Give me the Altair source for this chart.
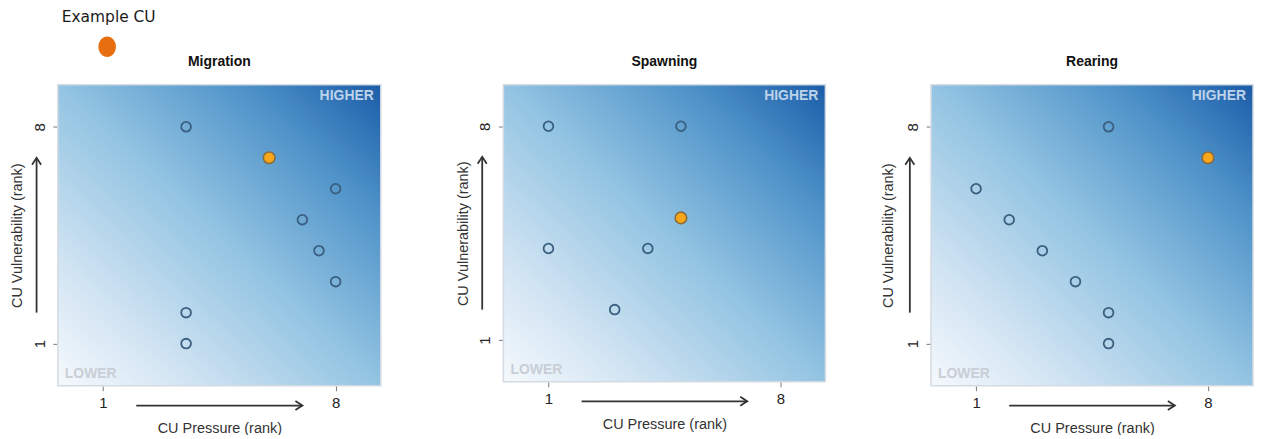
import altair as alt
import pandas as pd

# ---------------- data ----------------
panel_titles = ["Migration", "Spawning", "Rearing"]

migration_x = [3.5, 6, 8, 7, 7.5, 8, 3.5, 3.5]
migration_y = [8, 7, 6, 5, 4, 3, 2, 1]
migration_example = [False, True, False, False, False, False, False, False]

spawning_x = [1, 5, 5, 1, 4, 3]
spawning_y = [8, 8, 5, 4, 4, 2]
spawning_example = [False, False, True, False, False, False]

rearing_x = [5, 8, 1, 2, 3, 4, 5, 5]
rearing_y = [8, 7, 6, 5, 4, 3, 2, 1]
rearing_example = [False, True, False, False, False, False, False, False]

tick_values = [1, 8]
axis_domain = [-0.36, 9.36]

# arrows: first = along x axis, second = along y axis
arrow_x0 = [2, -1]
arrow_x1 = [7, -1]
arrow_y0 = [-1, 2]
arrow_y1 = [-1, 7]
arrow_angle = [0, 270]

x_title = "CU Pressure (rank)"
y_title = "CU Vulnerability (rank)"
corner_labels = ["LOWER", "HIGHER"]
legend_label = "Example CU"

# ---------------- styling ----------------
FONT = "Liberation Sans"
GRAD = alt.Gradient(
    gradient="linear",
    x1=0, y1=1, x2=1, y2=0,
    stops=[
        alt.GradientStop(offset=0.0, color="#f5f9fd"),
        alt.GradientStop(offset=0.2, color="#d3e5f3"),
        alt.GradientStop(offset=0.5, color="#93c4e2"),
        alt.GradientStop(offset=0.78, color="#4f93c9"),
        alt.GradientStop(offset=1.0, color="#1b5ca8"),
    ],
)
CHEVRON = "M -1,-0.65 L 0,0 L -1,0.65"
ELLIPSE = "M 0,-1 A 0.85,1 0 1,1 0,1 A 0.85,1 0 1,1 0,-1 Z"
LEFT_EXTENT = 48  # room reserved left of each plot for the y-axis title


def make_panel(title, xs, ys, ex, w, h, ytitle_x, legend=False):
    df = pd.DataFrame({"pressure": xs, "vulnerability": ys, "example": ex})
    one = pd.DataFrame({"k": [0]})
    arr = pd.DataFrame({"x0": arrow_x0, "x1": arrow_x1, "y0": arrow_y0,
                        "y1": arrow_y1, "angle": arrow_angle})
    xsc = alt.Scale(domain=axis_domain, nice=False, zero=False)
    ysc = alt.Scale(domain=axis_domain, nice=False, zero=False)

    xaxis = alt.Axis(values=tick_values, title=x_title, grid=False, domain=False,
                     tickSize=5, tickColor="#777777", tickWidth=1,
                     labelFont=FONT, labelFontSize=15, labelColor="#222222",
                     labelPadding=5, labelFlush=False, labelOverlap=False,
                     titleFont=FONT, titleFontSize=14.5, titleFontWeight="normal",
                     titleColor="#333333", titleX=w / 2, titleY=42.5,
                     titleBaseline="middle", titleAlign="center")
    yaxis = alt.Axis(values=tick_values, title=y_title, grid=False, domain=False,
                     tickSize=5, tickColor="#777777", tickWidth=1,
                     labelFont=FONT, labelFontSize=15, labelColor="#222222",
                     labelAngle=270, labelAlign="center", labelBaseline="bottom",
                     labelPadding=5.5, labelFlush=False, labelOverlap=False,
                     titleFont=FONT, titleFontSize=14.5, titleFontWeight="normal",
                     titleColor="#333333", titleX=ytitle_x, titleY=h / 2,
                     titleAngle=270, titleBaseline="middle", titleAlign="center")

    frame = alt.Chart(one).mark_rect(fill="white", opacity=0).encode(
        x=alt.value(-LEFT_EXTENT), x2=alt.value(w - 1), y=alt.value(0), y2=alt.value(h))
    bg = alt.Chart(one).mark_rect(fill=GRAD, stroke="#d4dae1", strokeWidth=1.5).encode(
        x=alt.value(0), x2=alt.value(w), y=alt.value(0), y2=alt.value(h))

    rules = alt.Chart(arr).mark_rule(color="#333333", strokeWidth=1.8, clip=False).encode(
        x=alt.X("x0:Q", scale=xsc, axis=xaxis), x2="x1:Q",
        y=alt.Y("y0:Q", scale=ysc, axis=yaxis), y2="y1:Q")
    heads = alt.Chart(arr).mark_point(shape=CHEVRON, filled=False, size=196,
                                      strokeWidth=1.8, color="#333333", opacity=1,
                                      clip=False).encode(
        x=alt.X("x1:Q", scale=xsc, axis=xaxis),
        y=alt.Y("y1:Q", scale=ysc, axis=yaxis),
        angle=alt.Angle("angle:Q", scale=None))

    open_pts = alt.Chart(df).transform_filter("!datum.example").mark_point(
        shape="circle", filled=False, size=95, strokeWidth=1.8, color="#3a5f80",
        opacity=1).encode(
        x=alt.X("pressure:Q", scale=xsc, axis=xaxis),
        y=alt.Y("vulnerability:Q", scale=ysc, axis=yaxis))
    ex_pts = alt.Chart(df).transform_filter("datum.example").mark_point(
        shape="circle", filled=True, fill="#f9a61a", stroke="#8a6c3e",
        strokeWidth=1.6, size=135, opacity=1).encode(
        x=alt.X("pressure:Q", scale=xsc, axis=xaxis),
        y=alt.Y("vulnerability:Q", scale=ysc, axis=yaxis))

    lower = alt.Chart(one).mark_text(text=corner_labels[0], font=FONT, fontSize=14,
                                     fontWeight="bold", color="#c9ced6", align="left",
                                     baseline="middle").encode(
        x=alt.value(7), y=alt.value(h - 11.5))
    higher = alt.Chart(one).mark_text(text=corner_labels[1], font=FONT, fontSize=14,
                                      fontWeight="bold", color="#bdd3ea", align="right",
                                      baseline="middle").encode(
        x=alt.value(w - 7), y=alt.value(11.7))
    ttl = alt.Chart(one).mark_text(text=title, font=FONT, fontSize=14, fontWeight="bold",
                                   color="#111111", align="center", baseline="middle").encode(
        x=alt.value(w / 2), y=alt.value(-23))

    layers = [frame, bg, rules, heads, open_pts, ex_pts, lower, higher, ttl]
    if legend:
        ltxt = alt.Chart(one).mark_text(text=legend_label, font="DejaVu Sans", fontSize=15.5,
                                        color="#1a1a1a", align="center",
                                        baseline="middle").encode(
            x=alt.value(51), y=alt.value(-68))
        ldot = alt.Chart(one).mark_point(shape=ELLIPSE, filled=True, color="#e86f0f",
                                         size=428, opacity=1).encode(
            x=alt.value(49.5), y=alt.value(-38))
        layers += [ltxt, ldot]
    return alt.layer(*layers).properties(width=w, height=h)


p1 = make_panel(panel_titles[0], migration_x, migration_y, migration_example, 324, 302, -40, legend=True)
p2 = make_panel(panel_titles[1], spawning_x, spawning_y, spawning_example, 323, 298, -40)
p3 = make_panel(panel_titles[2], rearing_x, rearing_y, rearing_example, 323, 302, -42.7)

chart = alt.hconcat(alt.hconcat(p1, p2, spacing=74), p3, spacing=54).configure(
    font=FONT,
    padding={"left": 2, "top": 1.25, "right": 0, "bottom": 0},
).configure_view(stroke=None)

chart.save("out.html", embed_options={"renderer": "svg", "actions": False})
